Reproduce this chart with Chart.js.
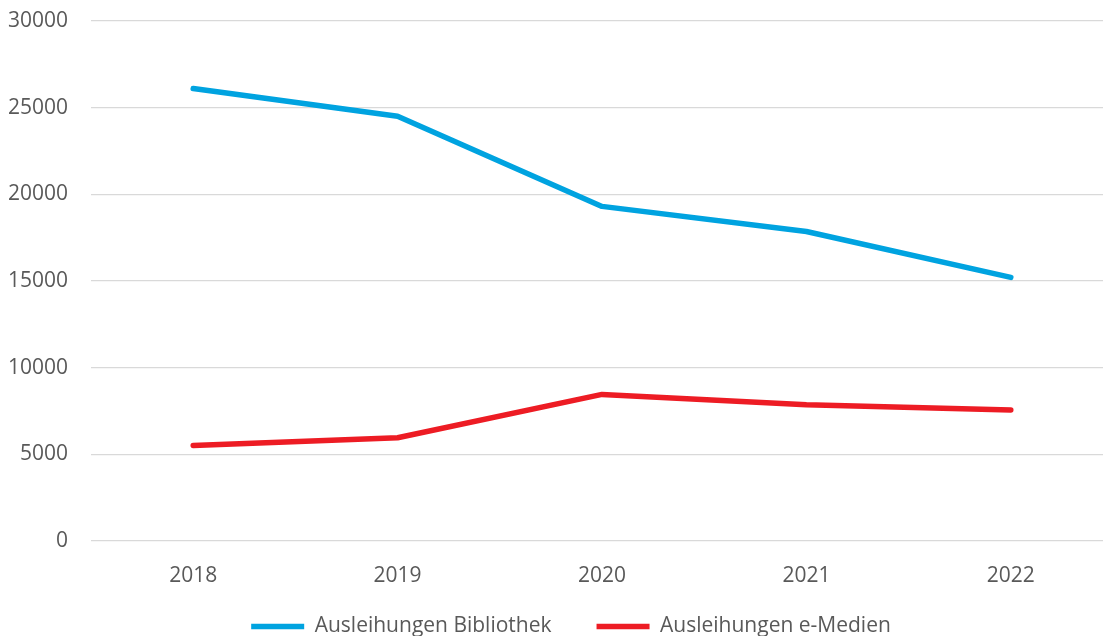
<!DOCTYPE html>
<html lang="de">
<head>
<meta charset="utf-8">
<title>Ausleihungen</title>
<script src="https://cdn.jsdelivr.net/npm/chart.js@4"></script>
<style>
  html, body { margin: 0; padding: 0; background: #fff; overflow: hidden; }
  #wrap { width: 1103px; height: 636px; overflow: hidden; }
</style>
</head>
<body>
<div id="wrap">
  <canvas id="grafico" width="1143" height="636"></canvas>
</div>
<script>
// Daten
const jahre = ['2018', '2019', '2020', '2021', '2022'];
const bibliothek = [26100, 24500, 19300, 17850, 15200];
const eMedien = [5500, 5950, 8450, 7850, 7550];

const textFarbe = '#595959';
const schrift = 'Open Sans';

// Legende etwas nach rechts und oben schieben (wie im Original)
const legendeVerschieben = {
    id: 'legendeVerschieben',
    afterLayout(chart) {
        const legende = chart.legend;
        legende.left += 29;
        legende.top -= 41;
        legende.bottom -= 41;
    }
};

const ctx = document.getElementById('grafico').getContext('2d');
const grafico = new Chart(ctx, {
    type: 'line',
    data: {
        labels: jahre,
        datasets: [{
            label: 'Ausleihungen Bibliothek',
            data: bibliothek,
            borderColor: '#00A3E0',
            backgroundColor: '#00A3E0',
            borderWidth: 5.5,
            borderCapStyle: 'round',
            borderJoinStyle: 'round',
            pointRadius: 0,
            tension: 0
        }, {
            label: 'Ausleihungen e-Medien',
            data: eMedien,
            borderColor: '#ED1C24',
            backgroundColor: '#ED1C24',
            borderWidth: 5.5,
            borderCapStyle: 'round',
            borderJoinStyle: 'round',
            pointRadius: 0,
            tension: 0
        }]
    },
    plugins: [legendeVerschieben],
    options: {
        responsive: false,
        animation: false,
        layout: {
            padding: { left: 0, right: 30, top: 21, bottom: -52 }
        },
        plugins: {
            legend: {
                position: 'bottom',
                labels: {
                    usePointStyle: true,
                    pointStyle: 'line',
                    pointStyleWidth: 53,
                    padding: 45,
                    color: textFarbe,
                    font: { family: schrift, size: 21 }
                }
            },
            tooltip: { enabled: false }
        },
        scales: {
            y: {
                min: 0,
                max: 30000,
                afterFit: function(scale) { scale.width = 91; },
                ticks: {
                    stepSize: 5000,
                    padding: 0,
                    color: textFarbe,
                    font: { family: schrift, size: 21 },
                    callback: function(value) { return String(value); }
                },
                grid: {
                    color: '#D9D9D9',
                    lineWidth: 1.3,
                    drawTicks: true,
                    tickLength: 23,
                    tickColor: 'rgba(0,0,0,0)'
                },
                border: { display: false }
            },
            x: {
                offset: true,
                ticks: {
                    padding: 23,
                    color: textFarbe,
                    font: { family: schrift, size: 21 }
                },
                grid: { display: false, drawTicks: false },
                border: { display: false }
            }
        }
    }
});
</script>
</body>
</html>
